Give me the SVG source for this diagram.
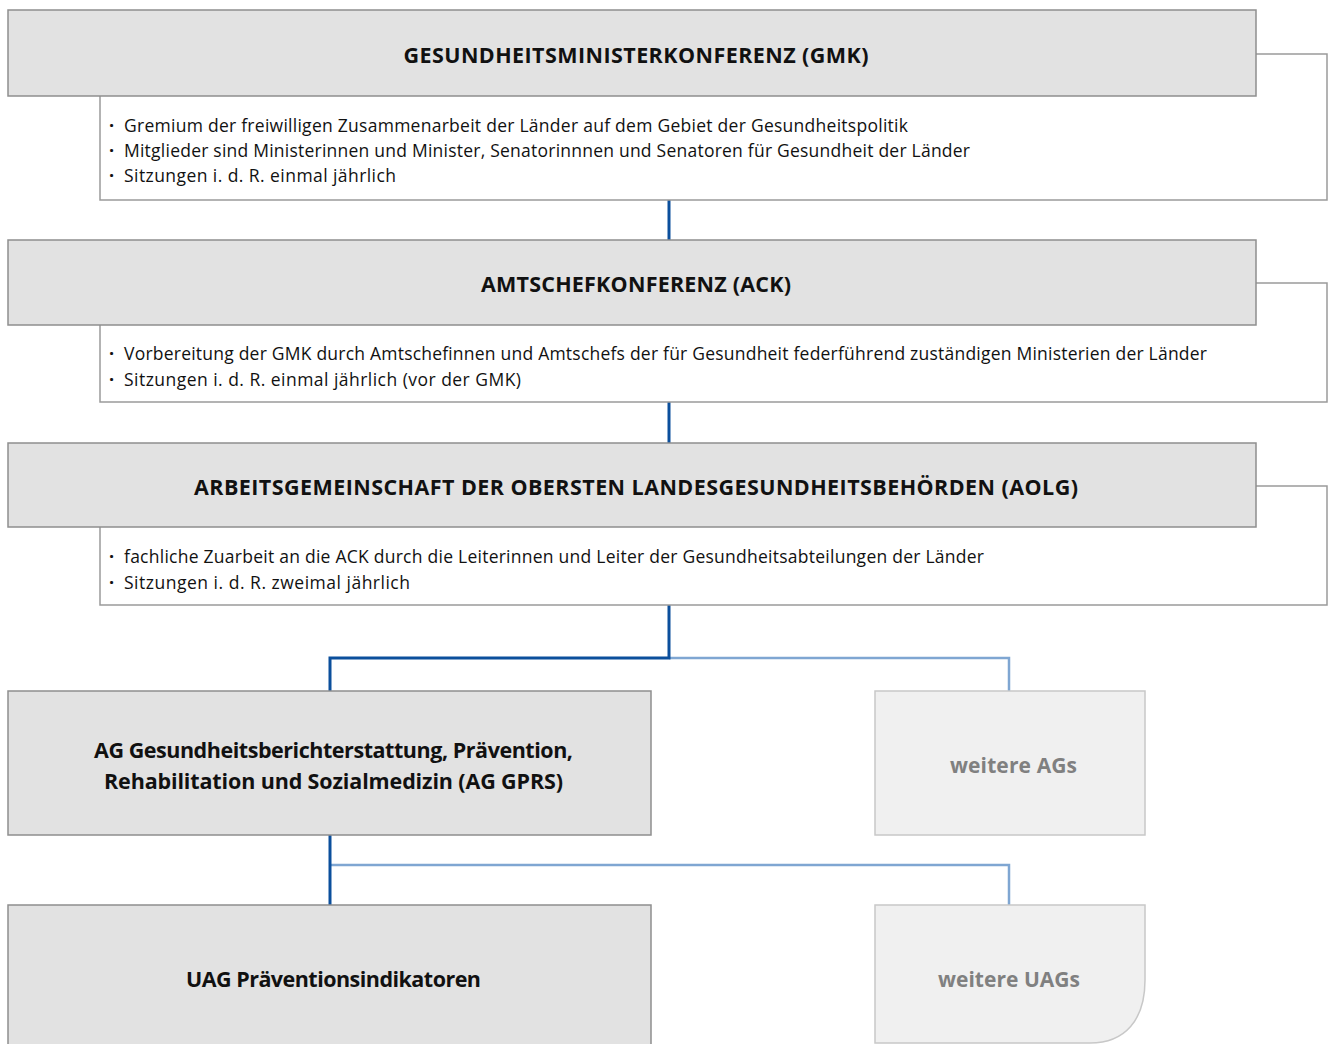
<svg xmlns="http://www.w3.org/2000/svg" width="1330" height="1044" viewBox="0 0 1330 1044">
<style>
.hdr{fill:#e2e2e2;stroke:#8e8e8e;stroke-width:1.5}
.desc{fill:#fff;stroke:#9a9a9a;stroke-width:1.5}
.sub{fill:#f0f0f0;stroke:#c8c8c8;stroke-width:1.5}
.ht{font-family:"Open Sans","Noto Sans",sans-serif;font-weight:700;font-size:21.5px;fill:#111;text-anchor:middle}
.bt{font-family:"Open Sans","Noto Sans",sans-serif;font-size:17.5px;fill:#111}
.bu{font-family:"Open Sans","Noto Sans",sans-serif;font-size:18px;font-weight:700;fill:#111}
.gt{font-family:"Open Sans","Noto Sans",sans-serif;font-weight:700;font-size:21px;fill:#808080;text-anchor:middle}
.dk{stroke:#0b4f9c;stroke-width:3;fill:none}
.lt{stroke:#7fa6d2;stroke-width:2.5;fill:none}
</style>
<rect width="1330" height="1044" fill="#fff"/>
<g id="connectors">
<line class="dk" x1="669" y1="200" x2="669" y2="240"/>
<line class="dk" x1="669" y1="402" x2="669" y2="443"/>
<polyline class="lt" points="669,658 1009,658 1009,691"/>
<polyline class="dk" points="669,605 669,658 330,658 330,691"/>
<polyline class="lt" points="330,865 1009,865 1009,905"/>
<line class="dk" x1="330" y1="835" x2="330" y2="905"/>
</g>
<g id="gmk">
<rect class="desc" x="100" y="54" width="1227" height="146"/>
<rect class="hdr" x="8" y="10" width="1248" height="86"/>
<text class="ht" x="636" y="63" textLength="465">GESUNDHEITSMINISTERKONFERENZ (GMK)</text>
<text class="bu" x="109" y="132">·</text>
<text class="bt" x="124" y="132" textLength="784">Gremium der freiwilligen Zusammenarbeit der Länder auf dem Gebiet der Gesundheitspolitik</text>
<text class="bu" x="109" y="157">·</text>
<text class="bt" x="124" y="157" textLength="846">Mitglieder sind Ministerinnen und Minister, Senatorinnnen und Senatoren für Gesundheit der Länder</text>
<text class="bu" x="109" y="182">·</text>
<text class="bt" x="124" y="182" textLength="272">Sitzungen i. d. R. einmal jährlich</text>
</g>
<g id="ack">
<rect class="desc" x="100" y="283" width="1227" height="119"/>
<rect class="hdr" x="8" y="240" width="1248" height="85"/>
<text class="ht" x="636" y="292" textLength="310">AMTSCHEFKONFERENZ (ACK)</text>
<text class="bu" x="109" y="360">·</text>
<text class="bt" x="124" y="360" textLength="1083">Vorbereitung der GMK durch Amtschefinnen und Amtschefs der für Gesundheit federführend zuständigen Ministerien der Länder</text>
<text class="bu" x="109" y="386">·</text>
<text class="bt" x="124" y="386" textLength="397">Sitzungen i. d. R. einmal jährlich (vor der GMK)</text>
</g>
<g id="aolg">
<rect class="desc" x="100" y="486" width="1227" height="119"/>
<rect class="hdr" x="8" y="443" width="1248" height="84"/>
<text class="ht" x="636" y="495" textLength="884">ARBEITSGEMEINSCHAFT DER OBERSTEN LANDESGESUNDHEITSBEHÖRDEN (AOLG)</text>
<text class="bu" x="109" y="563">·</text>
<text class="bt" x="124" y="563" textLength="860">fachliche Zuarbeit an die ACK durch die Leiterinnen und Leiter der Gesundheitsabteilungen der Länder</text>
<text class="bu" x="109" y="589">·</text>
<text class="bt" x="124" y="589" textLength="286">Sitzungen i. d. R. zweimal jährlich</text>
</g>
<g id="ag-gprs">
<rect class="hdr" x="8" y="691" width="643" height="144"/>
<text class="ht" x="333.5" y="758" textLength="479">AG Gesundheitsberichterstattung, Prävention,</text>
<text class="ht" x="333.5" y="789" textLength="459">Rehabilitation und Sozialmedizin (AG GPRS)</text>
</g>
<g id="weitere-ags">
<rect class="sub" x="875" y="691" width="270" height="144"/>
<text class="gt" x="1013.5" y="773" textLength="127">weitere AGs</text>
</g>
<g id="uag">
<rect class="hdr" x="8" y="905" width="643" height="150"/>
<text class="ht" x="333.5" y="987" textLength="295">UAG Präventionsindikatoren</text>
</g>
<g id="weitere-uags">
<path class="sub" d="M875,905 H1145 V980 C1145,1020 1125,1043 1090,1043 H875 Z"/>
<text class="gt" x="1009" y="987" textLength="142">weitere UAGs</text>
</g>
</svg>
